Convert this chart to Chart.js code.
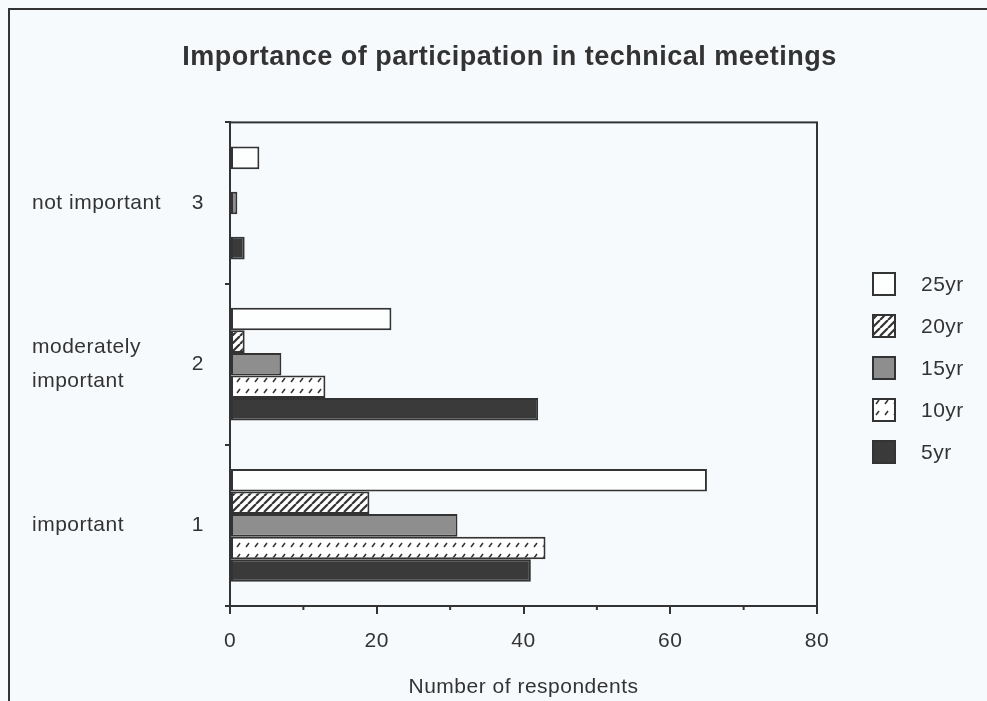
<!DOCTYPE html>
<html>
<head>
<meta charset="utf-8">
<script src="https://cdn.jsdelivr.net/npm/chart.js@4.4.1/dist/chart.umd.min.js"></script>
<style>
  html, body { margin: 0; padding: 0; background: #f7fafc; }
  #wrap { width: 987px; height: 701px; position: relative; }
</style>
</head>
<body>
<div id="wrap"><canvas id="chart"></canvas></div>
<script>
// categories, top to bottom
const levels = ['3', '2', '1']
const levelNames = ['not important', ['moderately', 'important'], 'important']

// series, same order as the bars inside a group (top first)
const seriesNames = ['25yr', '20yr', '15yr', '10yr', '5yr']
const yr25 = [4, 22, 65]
const yr20 = [0, 2, 19]
const yr15 = [1, 7, 31]
const yr10 = [0, 13, 43]
const yr5 = [2, 42, 41]

const minorTicks = [10, 30, 50, 70]

const ink = '#333333'
const fontSize = 21

Chart.defaults.font.family = '"Liberation Sans", Arial, sans-serif'

function makePattern(w, h, paint) {
	const c = document.createElement('canvas')
	c.width = w
	c.height = h
	const g = c.getContext('2d')
	paint(g, w, h)
	return g.createPattern(c, 'repeat')
}

// diagonal hatching for 20yr
const hatch = makePattern(8, 8, (g, w, h) => {
	g.fillStyle = '#ffffff'
	g.fillRect(0, 0, w, h)
	g.strokeStyle = ink
	g.lineWidth = 2.2
	g.beginPath()
	for (let k = -1; k <= 1; k++) {
		g.moveTo(k * w, h)
		g.lineTo(k * w + w, 0)
	}
	g.stroke()
})

// sparse dashes for 10yr
const dashes = makePattern(9, 11, (g, w, h) => {
	g.fillStyle = '#ffffff'
	g.fillRect(0, 0, w, h)
	g.strokeStyle = ink
	g.lineWidth = 1.6
	g.beginPath()
	g.moveTo(3, 8)
	g.lineTo(6, 4)
	g.stroke()
})

const fills = ['#fdfefe', hatch, '#8e8e8e', dashes, '#3a3a3a']
const values = [yr25, yr20, yr15, yr10, yr5]

const datasets = seriesNames.map((name, i) => ({
	label: name,
	data: values[i],
	backgroundColor: fills[i],
	borderColor: ink,
	borderWidth: 2,
	borderSkipped: false,
	categoryPercentage: 0.7,
	barPercentage: 1,
	yAxisID: 'y'
}))

// the scanned lettering is a little wider than Arial
const spacing = {
	id: 'spacing',
	beforeLayout(chart) { chart.ctx.letterSpacing = '0.5px' },
	beforeDraw(chart) { chart.ctx.letterSpacing = '0.5px' }
}

// frame, minor ticks, legend
const extras = {
	id: 'extras',
	afterDraw(chart) {
		const ctx = chart.ctx
		const a = chart.chartArea
		ctx.save()
		ctx.strokeStyle = ink
		ctx.lineWidth = 2
		ctx.strokeRect(a.left, a.top, a.right - a.left, a.bottom - a.top)

		// outer page frame
		ctx.beginPath()
		ctx.moveTo(9, chart.height)
		ctx.lineTo(9, 9)
		ctx.lineTo(chart.width, 9)
		ctx.stroke()

		// minor ticks on x
		const xs = chart.scales.x
		ctx.beginPath()
		minorTicks.forEach(v => {
			const px = xs.getPixelForValue(v)
			ctx.moveTo(px, a.bottom)
			ctx.lineTo(px, a.bottom + 4)
		})
		ctx.stroke()

		// legend
		const lx = 873
		const ly = 284
		const step = 42
		const box = 22
		ctx.font = fontSize + 'px "Liberation Sans", Arial, sans-serif'
		ctx.textBaseline = 'middle'
		ctx.textAlign = 'left'
		chart.data.datasets.forEach((ds, i) => {
			const cy = ly + i * step
			ctx.fillStyle = ds.backgroundColor
			ctx.fillRect(lx, cy - box / 2, box, box)
			ctx.strokeRect(lx, cy - box / 2, box, box)
			ctx.fillStyle = ink
			ctx.fillText(ds.label, 921, cy + 1)
		})
		ctx.restore()
	}
}

new Chart(document.getElementById('chart'), {
	type: 'bar',
	data: { labels: levels, datasets: datasets },
	options: {
		indexAxis: 'y',
		responsive: true,
		maintainAspectRatio: false,
		animation: false,
		layout: { padding: { left: 32, top: 0, right: 0, bottom: 0 } },
		plugins: {
			legend: { display: false },
			tooltip: { enabled: false },
			title: {
				display: true,
				text: 'Importance of participation in technical meetings',
				color: ink,
				font: { size: 27, weight: 'bold' },
				padding: { top: 41, bottom: 49 }
			}
		},
		scales: {
			x: {
				type: 'linear',
				min: 0,
				max: 80,
				ticks: { stepSize: 20, color: ink, font: { size: fontSize }, padding: 15 },
				grid: { drawOnChartArea: false, tickLength: 8, color: ink, lineWidth: 2 },
				border: { color: ink, width: 2 },
				title: {
					display: true,
					text: 'Number of respondents',
					color: ink,
					font: { size: fontSize },
					padding: { top: 0, bottom: 1 }
				},
				afterFit: s => { s.height = 95 }
			},
			y: {
				type: 'category',
				position: 'left',
				weight: 0,
				offset: true,
				ticks: { color: ink, font: { size: fontSize }, padding: 21 },
				grid: { offset: true, drawOnChartArea: false, tickLength: 5, color: ink, lineWidth: 2 },
				border: { color: ink, width: 2 },
				afterFit: s => { s.width = 40 }
			},
			names: {
				type: 'category',
				position: 'left',
				weight: 1,
				labels: levelNames,
				offset: true,
				grid: { display: false },
				border: { display: false },
				ticks: { crossAlign: 'far', color: ink, font: { size: fontSize, lineHeight: 1.6 } },
				afterFit: s => { s.width = 158 }
			},
			gap: {
				type: 'category',
				position: 'right',
				labels: levels,
				grid: { display: false },
				border: { display: false },
				ticks: { display: false },
				afterFit: s => { s.width = 170 }
			}
		}
	},
	plugins: [spacing, extras]
})
</script>
</body>
</html>
